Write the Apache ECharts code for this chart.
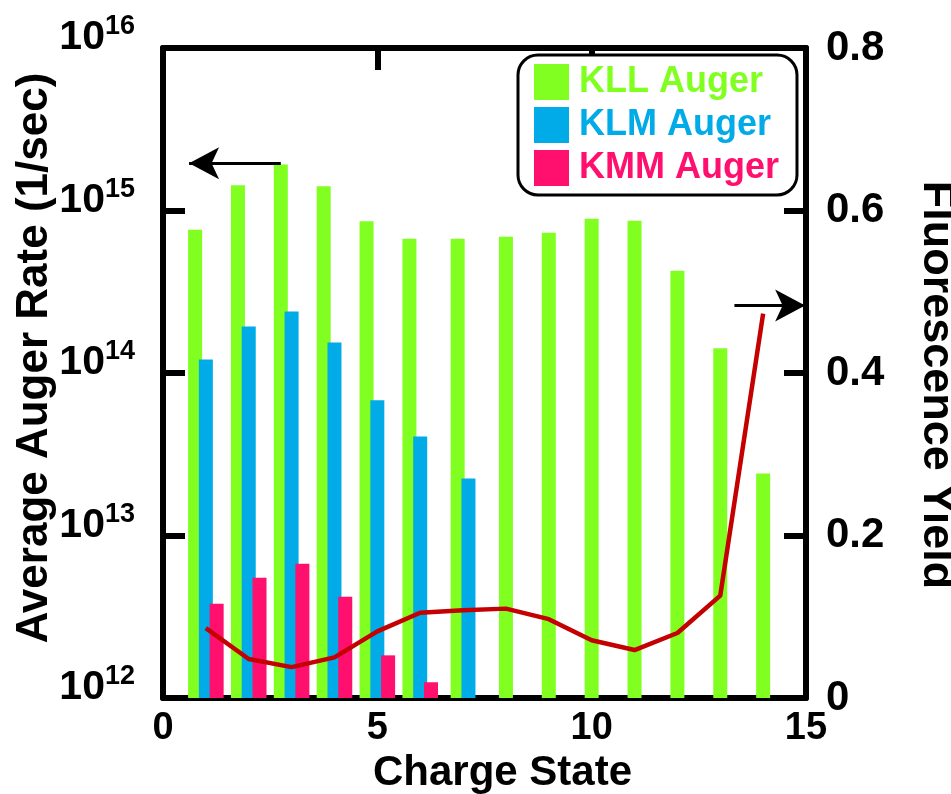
<!DOCTYPE html>
<html>
<head>
<meta charset="utf-8">
<script src="https://cdn.jsdelivr.net/npm/echarts@6/dist/echarts.min.js"></script>
<style>
  html, body { margin: 0; padding: 0; background: #fff; }
  #chart { width: 951px; height: 794px; }
</style>
</head>
<body>
<div id="chart"></div>
<script>
// charge states 1..14
const charges = [1, 2, 3, 4, 5, 6, 7, 8, 9, 10, 11, 12, 13, 14]
// average Auger rates (1/sec)
const kllRate = [7.6e14, 1.43e15, 1.92e15, 1.41e15, 8.6e14, 6.7e14, 6.7e14,
  6.9e14, 7.3e14, 8.9e14, 8.65e14, 4.26e14, 1.42e14, 2.41e13]
const klmRate = [1.21e14, 1.93e14, 2.39e14, 1.54e14, 6.8e13, 4.06e13, 2.24e13]
const kmmRate = [3.8e12, 5.5e12, 6.7e12, 4.2e12, 1.83e12, 1.25e12]
// fluorescence yield (right axis)
const fluorYield = [0.086, 0.048, 0.038, 0.05, 0.082, 0.105, 0.108,
  0.11, 0.097, 0.071, 0.059, 0.08, 0.126, 0.473]

const seriesNames = ['KLL Auger', 'KLM Auger', 'KMM Auger']
const colors = ['#80ff20', '#00abe8', '#ff0f6e']
const lineColor = '#c40000'
const FONT = 'Liberation Sans, Arial, sans-serif'

const pairs = (vals, from, to) =>
  charges.slice(from, to).map((c, i) => [c, vals[from + i]])

const chart = echarts.init(document.getElementById('chart'))

const frameLine = { show: true, onZero: false, lineStyle: { color: '#000', width: 6 } }
const inTick = { show: true, inside: true, length: 22, lineStyle: { color: '#000', width: 6 } }
const tickFont = { color: '#000', fontFamily: FONT, fontWeight: 'bold', fontSize: 38 }

const xBase = { type: 'value', min: 0, max: 15, interval: 5, splitLine: { show: false } }

function barSeries(idx, data, xIdx, extra) {
  return Object.assign({
    name: seriesNames[idx],
    type: 'bar',
    xAxisIndex: xIdx,
    yAxisIndex: 0,
    data: data,
    barWidth: 14,
    barGap: '-23%',
    itemStyle: { color: colors[idx] },
    emphasis: { disabled: true }
  }, extra || {})
}

const arrowStyle = {
  silent: true,
  symbol: ['none', 'arrow'],
  symbolSize: [24, 30],
  label: { show: false },
  lineStyle: { color: '#000', width: 3, type: 'solid' },
  emphasis: { disabled: true }
}

const option = {
  animation: false,
  grid: { left: 163, right: 145, top: 48, bottom: 96, outerBoundsMode: 'none', containLabel: false },
  legend: {
    orient: 'vertical',
    left: 518,
    top: 55,
    padding: [9, 18, 9, 16],
    itemGap: 7,
    itemWidth: 35,
    itemHeight: 36,
    icon: 'rect',
    borderColor: '#000',
    borderWidth: 3,
    borderRadius: 20,
    backgroundColor: '#fff',
    selectedMode: false,
    textStyle: { fontFamily: FONT, fontWeight: 'bold', fontSize: 36, padding: [0, 0, 0, 5] },
    data: seriesNames.map((n, i) => ({ name: n, textStyle: { color: colors[i] } }))
  },
  xAxis: [
    Object.assign({}, xBase, {
      position: 'bottom',
      axisLine: frameLine,
      axisTick: inTick,
      axisLabel: Object.assign({ margin: 12 }, tickFont),
      name: 'Charge State',
      nameLocation: 'middle',
      nameGap: 47,
      nameTextStyle: { color: '#000', fontFamily: FONT, fontWeight: 'bold', fontSize: 42, padding: [0, 0, 0, 36] }
    }),
    Object.assign({}, xBase, {
      position: 'top',
      axisLine: frameLine,
      axisTick: inTick,
      axisLabel: { show: false }
    }),
    Object.assign({}, xBase, { show: false })
  ],
  yAxis: [
    {
      type: 'log',
      logBase: 10,
      min: 1e12,
      max: 1e16,
      startValue: 1e12,
      position: 'left',
      splitLine: { show: false },
      axisLine: frameLine,
      axisTick: inTick,
      axisLabel: {
        margin: 28,
        padding: [0, 0, 20, 0],
        formatter: (v) => '{b|10}{s|' + Math.round(Math.log10(v)) + '}',
        rich: {
          b: Object.assign({}, tickFont, { fontSize: 41 }),
          s: { color: '#000', fontFamily: FONT, fontWeight: 'bold', fontSize: 27, padding: [0, 0, 22, 0] }
        }
      },
      name: 'Average Auger Rate (1/sec)',
      nameLocation: 'middle',
      nameMoveOverlap: false,
      nameGap: 106,
      nameTextStyle: { color: '#000', fontFamily: FONT, fontWeight: 'bold', fontSize: 44, padding: [0, 0, 0, 30] }
    },
    {
      type: 'value',
      min: 0,
      max: 0.8,
      interval: 0.2,
      position: 'right',
      splitLine: { show: false },
      axisLine: frameLine,
      axisTick: inTick,
      axisLabel: Object.assign({ margin: 20, padding: [0, 0, 10, 0] }, tickFont, { fontSize: 42 }),
      name: 'Fluorescence Yield',
      nameLocation: 'middle',
      nameMoveOverlap: false,
      nameRotate: -90,
      nameGap: 108,
      nameTextStyle: { color: '#000', fontFamily: FONT, fontWeight: 'bold', fontSize: 45, padding: [0, 0, 0, 24] }
    }
  ],
  series: [
    // charges 1-6: three bars per charge
    barSeries(0, pairs(kllRate, 0, 6), 0, {
      markLine: Object.assign({}, arrowStyle, {
        data: [[{ coord: [3, 1.95e15] }, { coord: [0.86, 1.95e15] }]]
      })
    }),
    barSeries(1, pairs(klmRate, 0, 6), 0),
    barSeries(2, pairs(kmmRate, 0, 6), 0),
    // charge 7: two bars
    barSeries(0, pairs(kllRate, 6, 7), 1),
    barSeries(1, pairs(klmRate, 6, 7), 1),
    // charges 8-14: KLL only
    barSeries(0, pairs(kllRate, 7, 14), 2),
    {
      name: 'Fluorescence Yield',
      type: 'line',
      xAxisIndex: 0,
      yAxisIndex: 1,
      data: charges.map((c, i) => [c, fluorYield[i]]),
      showSymbol: false,
      z: 5,
      lineStyle: { color: lineColor, width: 4.5 },
      emphasis: { disabled: true },
      markLine: Object.assign({}, arrowStyle, {
        data: [[{ coord: [13.33, 0.483] }, { coord: [14.98, 0.483] }]]
      })
    }
  ]
}

chart.setOption(option)
</script>
</body>
</html>
